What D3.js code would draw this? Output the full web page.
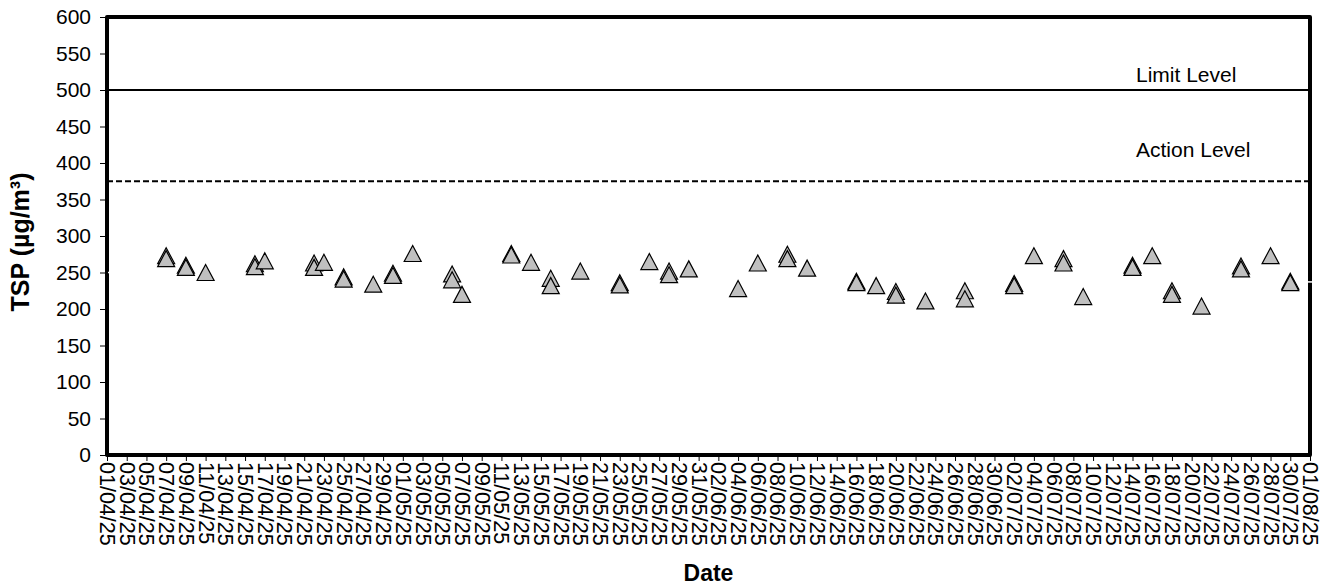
<!DOCTYPE html>
<html>
<head>
<meta charset="utf-8">
<script src="https://cdnjs.cloudflare.com/ajax/libs/d3/7.8.5/d3.min.js"></script>
<style>
	body { margin: 0; background: #ffffff; }
	svg text { font-family: "Liberation Sans", Arial, sans-serif; fill: #000000; }
</style>
</head>
<body>
<svg id="chart" width="1333" height="585"></svg>
<script>
// Sampling dates (same date repeated where two results overlap)
var sampleDates = [
	"07/04/25", "07/04/25", "09/04/25", "09/04/25", "11/04/25", "16/04/25", "16/04/25", "17/04/25",
	"22/04/25", "22/04/25", "23/04/25", "25/04/25", "25/04/25", "28/04/25", "30/04/25", "30/04/25",
	"02/05/25", "06/05/25", "06/05/25", "07/05/25", "12/05/25", "12/05/25", "14/05/25", "16/05/25",
	"16/05/25", "19/05/25", "23/05/25", "23/05/25", "26/05/25", "28/05/25", "28/05/25", "30/05/25",
	"04/06/25", "06/06/25", "09/06/25", "09/06/25", "11/06/25", "16/06/25", "16/06/25", "18/06/25",
	"20/06/25", "20/06/25", "23/06/25", "27/06/25", "27/06/25", "02/07/25", "02/07/25", "04/07/25",
	"07/07/25", "07/07/25", "09/07/25", "14/07/25", "14/07/25", "16/07/25", "18/07/25", "18/07/25",
	"21/07/25", "25/07/25", "25/07/25", "28/07/25", "30/07/25", "30/07/25"
];
// TSP results, µg/m3
var tspValues = [
	273, 269, 260, 257, 250, 262, 258, 266,
	263, 257, 264, 244, 241, 234, 249, 246,
	276, 248, 240, 220, 276, 274, 264, 242,
	232, 252, 236, 233, 265, 252, 247, 255,
	228, 263, 275, 269, 256, 238, 236, 232,
	224, 219, 211, 225, 214, 235, 232, 273,
	269, 263, 217, 260, 257, 273, 225, 220,
	204, 259, 255, 273, 238, 236
];
var levelNames = ["Limit Level", "Action Level"];
var levelValues = [500, 375];
var hiddenLine = [250, 237];
var yTicks = [0, 50, 100, 150, 200, 250, 300, 350, 400, 450, 500, 550, 600];
var axisStart = "01/04/25";
var axisEnd = "01/08/25";

var parseDate = d3.timeParse("%d/%m/%y");
var formatDate = d3.timeFormat("%d/%m/%y");

var svg = d3.select("#chart");
var plotLeft = 107, plotRight = 1310, plotTop = 17, plotBottom = 455;

var x = d3.scaleTime()
	.domain([parseDate(axisStart), parseDate(axisEnd)])
	.range([plotLeft, plotRight]);

var y = d3.scaleLinear()
	.domain([0, 600])
	.range([plotBottom, plotTop]);

var xTicks = d3.timeDay.range(parseDate(axisStart), d3.timeDay.offset(parseDate(axisEnd), 1), 2);

// y axis
var yAxis = svg.append("g")
	.attr("transform", "translate(" + plotLeft + ",0)")
	.call(d3.axisLeft(y).tickValues(yTicks).tickSize(7).tickPadding(9));
yAxis.select(".domain").remove();
yAxis.selectAll("line").attr("stroke", "#000").attr("stroke-width", 1);
yAxis.selectAll("text").attr("font-size", "21px").attr("font-family", "Liberation Sans, Arial, sans-serif");

// x axis
var xAxis = svg.append("g")
	.attr("transform", "translate(0," + plotBottom + ")")
	.call(d3.axisBottom(x).tickValues(xTicks).tickSize(6).tickFormat(formatDate));
xAxis.select(".domain").remove();
xAxis.selectAll("line").attr("stroke", "#000").attr("stroke-width", 1);
xAxis.selectAll("text")
	.attr("font-size", "21.5px")
	.attr("font-family", "Liberation Sans, Arial, sans-serif")
	.attr("transform", "rotate(90)")
	.attr("x", 7)
	.attr("y", 0)
	.attr("dy", "0.35em")
	.style("text-anchor", "start");

// level lines
svg.selectAll(".level")
	.data(levelValues)
	.enter().append("line")
	.attr("class", "level")
	.attr("x1", plotLeft)
	.attr("x2", plotRight)
	.attr("y1", function(d) { return y(d); })
	.attr("y2", function(d) { return y(d); })
	.attr("stroke", "#000")
	.attr("stroke-width", 2)
	.attr("stroke-dasharray", function(d, i) { return i == 1 ? "6,3" : null; });

svg.selectAll(".levelText")
	.data(levelNames)
	.enter().append("text")
	.attr("class", "levelText")
	.attr("x", 1136)
	.attr("y", function(d, i) { return y(levelValues[i]) - (i == 1 ? 24 : 8); })
	.attr("font-size", "21px")
	.text(function(d) { return d; });

// frame
svg.append("rect")
	.attr("x", plotLeft)
	.attr("y", plotTop)
	.attr("width", plotRight - plotLeft)
	.attr("height", plotBottom - plotTop)
	.attr("fill", "none")
	.attr("stroke", "#000")
	.attr("stroke-width", 4)
	.attr("stroke-linejoin", "round");

// white line only visible across the frame
svg.append("line")
	.attr("x1", x(parseDate(axisStart)) + 1)
	.attr("x2", x(parseDate(axisEnd)) + 8)
	.attr("y1", y(hiddenLine[0]))
	.attr("y2", y(hiddenLine[1]))
	.attr("stroke", "#fff")
	.attr("stroke-width", 1.5);

// triangle markers
svg.selectAll(".pt")
	.data(tspValues)
	.enter().append("path")
	.attr("class", "pt")
	.attr("d", function(d, i) {
		var cx = x(parseDate(sampleDates[i])), cy = y(d);
		var p = d3.path();
		p.moveTo(cx, cy - 8);
		p.lineTo(cx + 8.5, cy + 8);
		p.lineTo(cx - 8.5, cy + 8);
		p.closePath();
		return p.toString();
	})
	.attr("fill", "#c0c0c0")
	.attr("stroke", "#000")
	.attr("stroke-width", 1.2)
	.attr("stroke-linejoin", "miter");

// axis titles
svg.append("text")
	.attr("x", (plotLeft + plotRight) / 2)
	.attr("y", 581)
	.attr("font-size", "23px")
	.attr("font-weight", "bold")
	.style("text-anchor", "middle")
	.text("Date");

svg.append("text")
	.attr("transform", "translate(29,242) rotate(-90)")
	.attr("font-size", "25px")
	.attr("font-weight", "bold")
	.style("text-anchor", "middle")
	.text("TSP (µg/m³)");
</script>
</body>
</html>
